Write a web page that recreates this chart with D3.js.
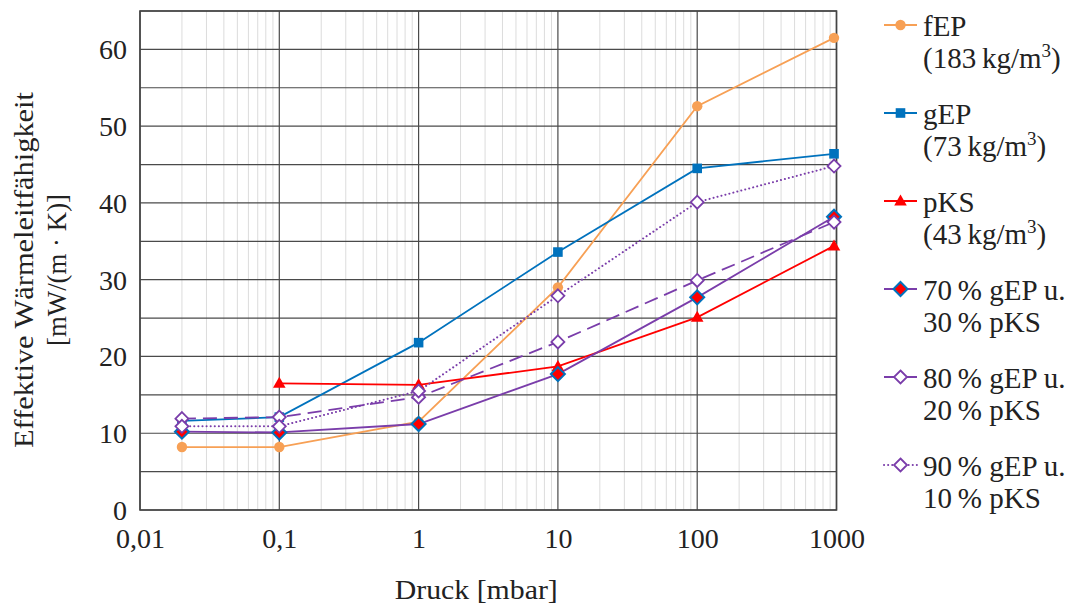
<!DOCTYPE html>
<html>
<head>
<meta charset="utf-8">
<script src="https://cdn.jsdelivr.net/npm/d3@7/dist/d3.min.js"></script>
<style>
  html, body { margin: 0; padding: 0; background: #fff; }
  svg { display: block; }
</style>
</head>
<body>
<svg id="chart" width="1081" height="610"></svg>
<script>
// ---- data ----
const pressure = [0.02, 0.1, 1, 10, 100, 960];
const fEP   = [8.2, 8.2, 11.5, 29.0, 52.6, 61.5];
const gEP   = [11.6, 12.1, 21.8, 33.6, 44.5, 46.4];
const pKS   = [null, 16.5, 16.3, 18.7, 25.1, 34.4];
const mix70 = [10.2, 10.1, 11.2, 17.7, 27.7, 38.2];
const mix80 = [11.9, 12.1, 14.7, 21.9, 29.9, 37.5];
const mix90 = [10.9, 10.9, 15.5, 27.9, 40.1, 44.8];

const xTicks = [0.01, 0.1, 1, 10, 100, 1000];
const xTickLabels = ["0,01", "0,1", "1", "10", "100", "1000"];
const yTicks = [0, 10, 20, 30, 40, 50, 60];
const yGrid = [0, 5, 10, 15, 20, 25, 30, 35, 40, 45, 50, 55, 60, 65];

const seriesNames = ["fEP", "gEP", "pKS", "70 % gEP u.", "80 % gEP u.", "90 % gEP u."];
const legendSecond = ["(183 kg/m", "(73 kg/m", "(43 kg/m", "30 % pKS", "20 % pKS", "10 % pKS"];

// ---- styles ----
const FONT = "'Liberation Serif', 'DejaVu Serif', serif";
const ORANGE = "#F7A055", BLUE = "#0072BD", RED = "#FF0000", PURPLE = "#7A3DAA";
const series = [
  {name: seriesNames[0], l2: legendSecond[0], sup: true, values: fEP, color: ORANGE, marker: "circle", dash: null},
  {name: seriesNames[1], l2: legendSecond[1], sup: true, values: gEP, color: BLUE, marker: "square", dash: null},
  {name: seriesNames[2], l2: legendSecond[2], sup: true, values: pKS, color: RED, marker: "triangle", dash: null},
  {name: seriesNames[3], l2: legendSecond[3], sup: false, values: mix70, color: PURPLE, marker: "diamondRed", dash: null},
  {name: seriesNames[4], l2: legendSecond[4], sup: false, values: mix80, color: PURPLE, marker: "diamondHollow", dash: "14,7"},
  {name: seriesNames[5], l2: legendSecond[5], sup: false, values: mix90, color: PURPLE, marker: "diamondHollow", dash: null, dotted: true},
];

const svg = d3.select("#chart");
const L = 140, R = 836.5, T = 11, B = 510;
const x = d3.scaleLog().domain([0.01, 1000]).range([L, R]);
const y = d3.scaleLinear().domain([0, 65]).range([B, T]);

function txt(sel, size) {
  return sel.style("font-family", FONT).style("font-size", size + "px").attr("fill", "#222");
}

// ---- grid ----
const g = svg.append("g");
const minor = [];
for (let e = -2; e < 3; e++) for (let m = 2; m <= 9; m++) minor.push(m * Math.pow(10, e));
g.selectAll(".minor").data(minor).enter().append("line")
  .attr("x1", d => x(d)).attr("x2", d => x(d)).attr("y1", T).attr("y2", B)
  .attr("stroke", "#dcdcdc").attr("stroke-width", 1);
g.selectAll(".hgrid").data(yGrid).enter().append("line")
  .attr("x1", L).attr("x2", R).attr("y1", d => y(d)).attr("y2", d => y(d))
  .attr("stroke", "#4a4a4a").attr("stroke-width", 1.2);
g.selectAll(".vgrid").data(xTicks).enter().append("line")
  .attr("x1", d => x(d)).attr("x2", d => x(d)).attr("y1", T).attr("y2", B)
  .attr("stroke", "#4a4a4a").attr("stroke-width", 1.2);
g.append("rect").attr("x", L).attr("y", T).attr("width", R - L).attr("height", B - T)
  .attr("fill", "none").attr("stroke", "#444").attr("stroke-width", 1.6);

// ---- axes labels ----
const xAxis = d3.axisBottom(x).tickValues(xTicks).tickFormat((d, i) => xTickLabels[i]).tickSize(0).tickPadding(0);
const xg = svg.append("g").attr("transform", `translate(0,${B})`).call(xAxis);
xg.select(".domain").remove();
txt(xg.selectAll("text"), 28).attr("dy", null).attr("y", 38);

const yAxis = d3.axisLeft(y).tickValues(yTicks).tickSize(0).tickPadding(13);
const yg = svg.append("g").attr("transform", `translate(${L},0)`).call(yAxis);
yg.select(".domain").remove();
txt(yg.selectAll("text"), 28).attr("dy", "0.34em");

txt(svg.append("text"), 28).attr("x", (L + R) / 2 - 12).attr("y", 599).attr("text-anchor", "middle")
  .attr("textLength", 163).attr("lengthAdjust", "spacingAndGlyphs").text("Druck [mbar]");

const yt = svg.append("g").attr("transform", "translate(0,270) rotate(-90)");
txt(yt.append("text"), 28).attr("x", 0).attr("y", 33).attr("text-anchor", "middle")
  .attr("textLength", 356).attr("lengthAdjust", "spacingAndGlyphs")
  .text("Effektive Wärmeleitfähigkeit");
txt(yt.append("text"), 28).attr("x", 0).attr("y", 66).attr("text-anchor", "middle")
  .attr("textLength", 152).attr("lengthAdjust", "spacingAndGlyphs")
  .text("[mW/(m · K)]");

// ---- markers ----
function drawMarker(sel, type, color) {
  if (type === "circle") {
    sel.append("circle").attr("r", 5.2).attr("fill", color);
  } else if (type === "square") {
    sel.append("rect").attr("x", -4.8).attr("y", -4.8).attr("width", 9.6).attr("height", 9.6).attr("fill", color);
  } else if (type === "triangle") {
    sel.append("path").attr("d", "M0,-6.5 L6.3,4.5 L-6.3,4.5 Z").attr("fill", color);
  } else if (type === "diamondRed") {
    sel.append("path").attr("d", "M0,-7 L7,0 L0,7 L-7,0 Z").attr("fill", RED).attr("stroke", BLUE).attr("stroke-width", 2);
  } else if (type === "diamondHollow") {
    sel.append("path").attr("d", "M0,-6.5 L6.5,0 L0,6.5 L-6.5,0 Z").attr("fill", "#fff").attr("stroke", color).attr("stroke-width", 1.8);
  }
}

// ---- lines ----
const plot = svg.append("g");
series.forEach(s => {
  const pts = pressure.map((p, i) => [p, s.values[i]]).filter(d => d[1] != null);
  const line = d3.line().x(d => x(d[0])).y(d => y(d[1]));
  const path = plot.append("path").datum(pts).attr("d", line).attr("fill", "none")
    .attr("stroke", s.color).attr("stroke-width", 1.8);
  if (s.dash) path.attr("stroke-dasharray", s.dash);
  if (s.dotted) path.attr("stroke-linecap", "round").attr("stroke-dasharray", "0.1,4").attr("stroke-width", 2);
  s.pts = pts;
});
series.forEach(s => {
  s.pts.forEach(d => {
    const m = plot.append("g").attr("transform", `translate(${x(d[0])},${y(d[1])})`);
    drawMarker(m, s.marker, s.color);
  });
});

// ---- legend ----
const leg = svg.append("g");
series.forEach((s, i) => {
  const cy = 25 + i * 88;
  const ln = leg.append("line").attr("x1", 884).attr("x2", 917).attr("y1", cy).attr("y2", cy)
    .attr("stroke", s.color).attr("stroke-width", 1.8);
  if (s.dotted) ln.attr("stroke-linecap", "round").attr("stroke-dasharray", "0.1,4").attr("stroke-width", 2);
  const m = leg.append("g").attr("transform", `translate(900.5,${cy})`);
  drawMarker(m, s.marker, s.color);
  txt(leg.append("text"), 29).attr("x", 923).attr("y", cy + 11)
    .text(s.name.replace(" %", "\u2009%"));
  const t2 = txt(leg.append("text"), 29).attr("x", 923).attr("y", cy + 43);
  if (s.sup) {
    t2.append("tspan").text(s.l2.replace(" kg", "\u2009kg"));
    t2.append("tspan").style("font-size", "19px").attr("dy", -11).text("3");
    t2.append("tspan").attr("dy", 11).text(")");
  } else {
    t2.text(s.l2.replace(" %", "\u2009%"));
  }
});
</script>
</body>
</html>
